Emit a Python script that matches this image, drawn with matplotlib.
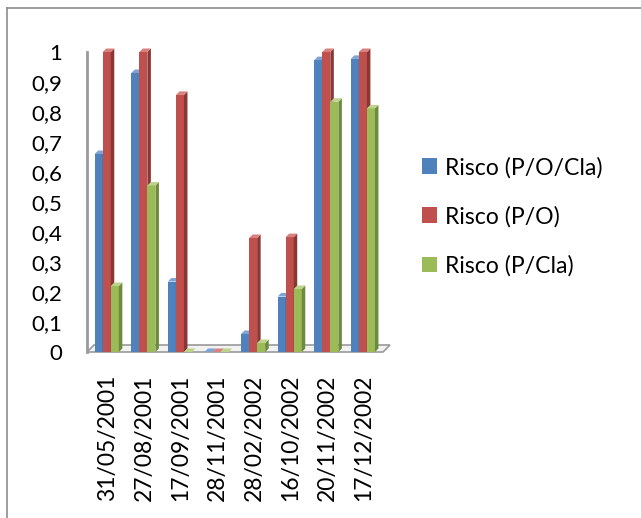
import numpy as np
import matplotlib
matplotlib.use("Agg")
import matplotlib.pyplot as plt
from matplotlib.patches import Polygon, Patch
from matplotlib.lines import Line2D

plt.rcParams['font.family'] = ['Lato', 'DejaVu Sans']

dates = ["31/05/2001", "27/08/2001", "17/09/2001", "28/11/2001",
         "28/02/2002", "16/10/2002", "20/11/2002", "17/12/2002"]
risco_p_o_cla = [0.66, 0.93, 0.235, 0.0, 0.06, 0.185, 0.973, 0.977]
risco_p_o = [1.0, 1.0, 0.857, 0.0, 0.38, 0.383, 1.0, 1.0]
risco_p_cla = [0.22, 0.555, 0.0, 0.0, 0.03, 0.21, 0.834, 0.812]
series_names = ["Risco (P/O/Cla)", "Risco (P/O)", "Risco (P/Cla)"]
y_ticks = np.arange(0, 1.01, 0.1)

face = ["#4F81BD", "#C0504D", "#9BBB59"]
side = ["#375A85", "#8A3634", "#6E8A3C"]
top = ["#7FA3D3", "#D9817E", "#BCD48A"]

W, H = 641, 518
fig = plt.figure(figsize=(W / 100, H / 100), dpi=100)
ax = fig.add_axes([87 / W, 166 / H, 296 / W, 300 / H])
x0lim, x1lim = -0.57, 7.52
ax.set_xlim(x0lim, x1lim)
ax.set_ylim(0, 1)

x = np.arange(len(dates))
bw = 0.22
series = [risco_p_o_cla, risco_p_o, risco_p_cla]
offs = [-bw, 0, bw]

# depth of the fake 3D faces: 3.5 px converted to data units
ddx = 3.5 * (x1lim - x0lim) / 296
ddy = 3.5 * 1.0 / 300

for k, vals in enumerate(series):
    z = 3 + k
    bars = ax.bar(x + offs[k] - 0.03, vals, bw, color=face[k], zorder=z)
    for b in bars:
        xa, xb, h = b.get_x(), b.get_x() + b.get_width(), b.get_height()
        ax.add_patch(Polygon([(xb, 0), (xb, h), (xb + ddx, h + ddy), (xb + ddx, ddy)],
                             closed=True, facecolor=side[k], edgecolor='none',
                             zorder=z, clip_on=False))
        ax.add_patch(Polygon([(xa, h), (xb, h), (xb + ddx, h + ddy), (xa + ddx, h + ddy)],
                             closed=True, facecolor=top[k], edgecolor='none',
                             zorder=z, clip_on=False))

ax.set_yticks(y_ticks)
ax.set_yticklabels([("%.1f" % v).replace(".", ",").replace("0,0", "0").replace("1,0", "1")
                    for v in y_ticks], fontsize=16)
ax.set_xticks(x)
ax.set_xticklabels(dates, rotation=90, fontsize=16.5, va='top')
ax.tick_params(axis='y', length=0, pad=18)
ax.tick_params(axis='x', length=0, pad=16)
for s in ax.spines.values():
    s.set_visible(False)
ax.patch.set_visible(False)

# walls / floor
ax.plot([x0lim, x0lim], [0, 1], color="#9a9a9a", lw=2, clip_on=False, zorder=1)
ax.add_patch(Polygon([(x0lim, 0), (x1lim, 0), (x1lim + 2 * ddx, 2 * ddy), (x0lim + 2 * ddx, 2 * ddy)],
                     closed=True, facecolor="#f2f2f2", edgecolor="#9a9a9a", lw=1.2,
                     zorder=1, clip_on=False))

handles = [Patch(facecolor=c) for c in face]
fig.legend(handles, series_names, loc='upper left', bbox_to_anchor=(401 / W, 1 - 136 / H),
           frameon=False, fontsize=16.6, handlelength=0.68, handleheight=0.68,
           handletextpad=0.35, labelspacing=1.2)

# chart border
fig.add_artist(Line2D([7 / W, 7 / W], [0, 1 - 8 / H], color="#8c8c8c", lw=1.2))
fig.add_artist(Line2D([7 / W, 1], [1 - 8 / H, 1 - 8 / H], color="#8c8c8c", lw=1.2))

fig.savefig("out.png", dpi=100)
